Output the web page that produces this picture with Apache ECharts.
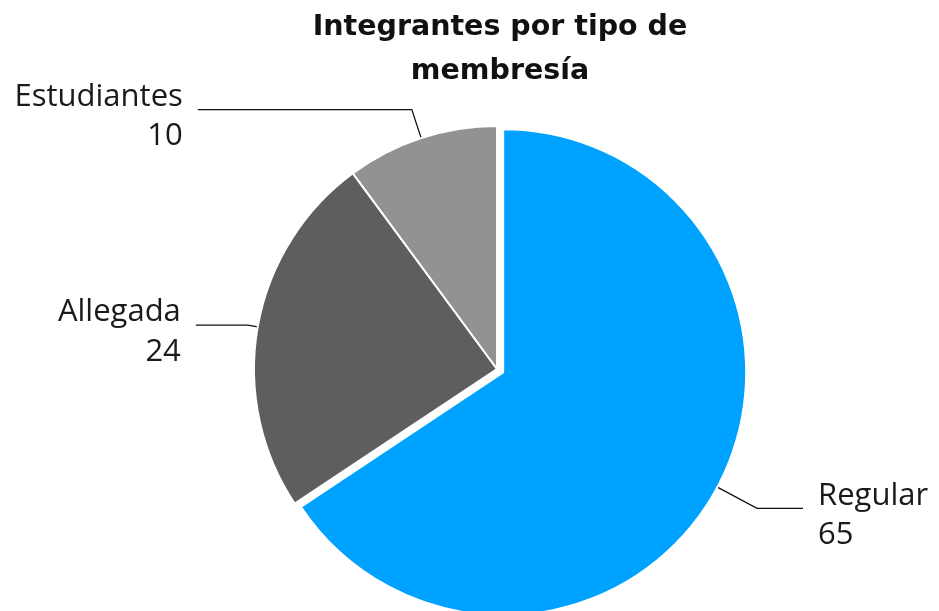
<!DOCTYPE html>
<html>
<head>
<meta charset="utf-8">
<script src="https://cdn.jsdelivr.net/npm/echarts@6/dist/echarts.min.js"></script>
<style>
  html, body { margin: 0; padding: 0; background: #fff; }
  #chart { width: 939px; height: 611px; }
</style>
</head>
<body>
<div id="chart"></div>
<script>
var categories = ['Regular', 'Allegada', 'Estudiantes'];
var members = [65, 24, 10];
var sliceColors = ['#00a2ff', '#5e5e5e', '#929292'];

(function () {
    // [first segment, horizontal segment] of each label line
    var lineSizes = [[45, 46], [10, 52], [30, 214]];
    var data = categories.map(function (name, i) {
        return {
            name: name,
            value: members[i],
            selected: i === 0,
            itemStyle: { color: sliceColors[i] },
            labelLine: { length: lineSizes[i][0], length2: lineSizes[i][1] }
        };
    });

    var chart = echarts.init(document.getElementById('chart'));
    chart.setOption({
        animation: false,
        title: {
            text: 'Integrantes por tipo de\nmembresía',
            left: 495,
            textAlign: 'center',
            top: 1,
            textStyle: {
                fontFamily: 'DejaVu Sans',
                fontSize: 28.5,
                fontWeight: 'bold',
                lineHeight: 44,
                color: '#111'
            }
        },
        series: [{
            type: 'pie',
            center: [497, 369],
            radius: 243,
            startAngle: 90,
            clockwise: true,
            selectedMode: 'single',
            selectedOffset: 7,
            avoidLabelOverlap: false,
            itemStyle: { borderColor: '#fff', borderWidth: 2 },
            label: {
                show: true,
                position: 'outside',
                alignTo: 'none',
                distanceToLabelLine: 15,
                formatter: '{n|{b}}\n{v|{c}}',
                fontFamily: 'Open Sans',
                fontSize: 31,
                color: '#1a1a1a',
                rich: {
                    n: { fontFamily: 'Open Sans', fontSize: 31, color: '#1a1a1a', lineHeight: 54, verticalAlign: 'bottom' },
                    v: { fontFamily: 'Open Sans', fontSize: 31, color: '#1a1a1a', lineHeight: 48 }
                }
            },
            labelLine: {
                show: true,
                lineStyle: { color: '#111', width: 1.3 }
            },
            emphasis: { disabled: true },
            data: data
        }]
    });
})();
</script>
</body>
</html>
